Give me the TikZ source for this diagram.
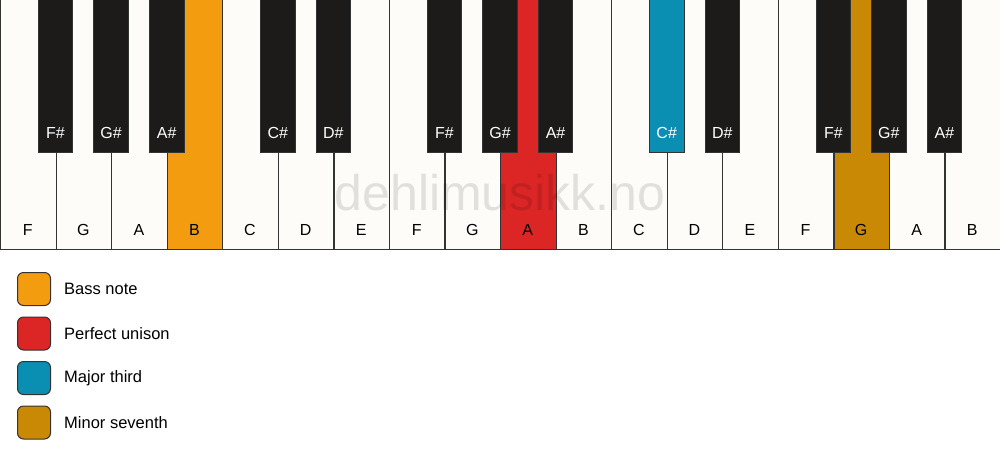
\documentclass[tikz,border=0pt]{standalone}
\usepackage{fontspec}
\setmainfont{Liberation Sans}
\begin{document}
\begin{tikzpicture}[x=1pt,y=-1pt,
  wkey/.style={draw=keyline,line width=1.2pt,fill=ivory,minimum width=55.56pt,minimum height=250pt,inner sep=0pt,anchor=north west},
  bkey/.style={draw=keyline,line width=0.8pt,fill=keyblack,minimum width=34.5pt,minimum height=153pt,inner sep=0pt,anchor=north},
  wlab/.style={font=\fontsize{16}{19}\selectfont,text=black},
  blab/.style={font=\fontsize{16}{19}\selectfont,text=white},
  legbox/.style={draw=keyline,line width=1pt,rounded corners=6pt,minimum size=33pt,inner sep=0pt,anchor=north west},
  legtext/.style={font=\fontsize{16.5}{19}\selectfont,anchor=west,inner sep=0pt}]
\definecolor{ivory}{HTML}{FDFCF9}
\definecolor{keyline}{HTML}{333333}
\definecolor{keyblack}{HTML}{1C1B1A}
\definecolor{bassc}{HTML}{F39C0F}
\definecolor{unisonc}{HTML}{DC2626}
\definecolor{thirdc}{HTML}{0A8FB3}
\definecolor{seventhc}{HTML}{C98904}
\useasboundingbox (0,0) rectangle (1000,461);
\fill[white] (0,0) rectangle (1000,461);
% white keys
\foreach \n/\lab/\col in {0/F/ivory,1/G/ivory,2/A/ivory,3/B/bassc,4/C/ivory,5/D/ivory,6/E/ivory,7/F/ivory,8/G/ivory,9/A/unisonc,10/B/ivory,11/C/ivory,12/D/ivory,13/E/ivory,14/F/ivory,15/G/seventhc,16/A/ivory,17/B/ivory}{
  \node[wkey,fill=\col] (w\n) at ({\n*55.556},-1) {};
  \node[wlab] (wl\n) at ({\n*55.556+27.78},230) {\lab};
}
% black keys (centred on white key boundaries)
\foreach \n/\lab/\col in {1/F\#/keyblack,2/G\#/keyblack,3/A\#/keyblack,5/C\#/keyblack,6/D\#/keyblack,8/F\#/keyblack,9/G\#/keyblack,10/A\#/keyblack,12/C\#/thirdc,13/D\#/keyblack,15/F\#/keyblack,16/G\#/keyblack,17/A\#/keyblack}{
  \node[bkey,fill=\col] (b\n) at ({\n*55.556},-1) {};
  \node[blab] (bl\n) at ({\n*55.556},133) {\lab};
}
% watermark
\node[font=\fontsize{50}{58}\selectfont,text=black,opacity=0.11] (wm) at (500,193) {dehlimusikk.no};
% legend
\node[legbox,fill=bassc] (l1) at (17,272) {};
\node[legbox,fill=unisonc] (l2) at (17,316.5) {};
\node[legbox,fill=thirdc] (l3) at (17,361) {};
\node[legbox,fill=seventhc] (l4) at (17,405.5) {};
\node[legtext] (t1) at (64,289) {Bass note};
\node[legtext] (t2) at (64,333.5) {Perfect unison};
\node[legtext] (t3) at (64,378) {Major third};
\node[legtext] (t4) at (64,422.5) {Minor seventh};
\end{tikzpicture}
\end{document}
